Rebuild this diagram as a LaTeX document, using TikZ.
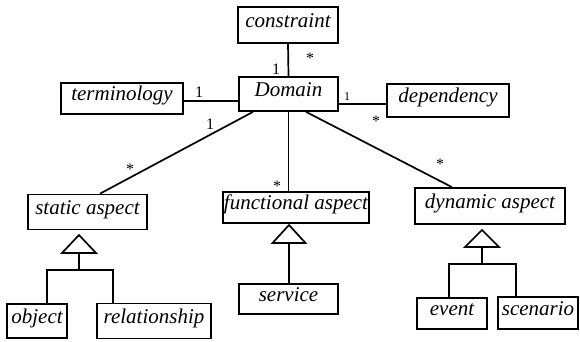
\documentclass[tikz,border=0pt]{standalone}
\usepackage{fontspec}
\setmainfont{Liberation Serif}
\begin{document}
\begin{tikzpicture}[x=1pt,y=-1pt,
  cls/.style={draw,line width=1.7pt,inner sep=0pt,font=\fontsize{21}{23}\selectfont\itshape,text height=0.7em,text depth=0.22em},
  conn/.style={line width=1.7pt},
  mult/.style={inner sep=0pt,font=\fontsize{16}{16}\selectfont},
  gen/.style={draw,line width=1.7pt,fill=white,line join=miter}]
\useasboundingbox (0,0) rectangle (580,341);
% classes
\node[cls,minimum width=100pt,minimum height=36pt] (constraint) at (288,25) {constraint};
\node[cls,minimum width=99pt,minimum height=34pt] (domain) at (288.5,94) {Domain};
\node[cls,minimum width=122pt,minimum height=31pt] (terminology) at (122,98.5) {terminology};
\node[cls,minimum width=122pt,minimum height=33pt] (dependency) at (448,100.5) {dependency};
\node[cls,minimum width=119pt,minimum height=35pt] (static) at (87.5,212) {static aspect};
\node[cls,minimum width=146pt,minimum height=31pt] (functional) at (296,207.5) {functional aspect};
\node[cls,minimum width=150pt,minimum height=36pt] (dynamic) at (490,206) {dynamic aspect};
\node[cls,minimum width=60pt,minimum height=34pt] (object) at (37,321) {object};
\node[cls,minimum width=114pt,minimum height=35pt] (relationship) at (154,321) {relationship};
\node[cls,minimum width=99pt,minimum height=30pt] (service) at (288.5,299) {service};
\node[cls,minimum width=70pt,minimum height=31pt] (event) at (452,313.5) {event};
\node[cls,minimum width=80pt,minimum height=32pt] (scenario) at (538,313) {scenario};
% associations
\draw[conn] (constraint.south) -- (domain.north);
\draw[conn] ([yshift=-2.5pt]terminology.east) -- ([yshift=-2.5pt]terminology.east -| domain.west);
\draw[conn] ([yshift=-3.5pt]dependency.west -| domain.east) -- ([yshift=-3.5pt]dependency.west);
\draw[conn] ([xshift=-35.5pt]domain.south) -- ([xshift=12.5pt]static.north);
\draw[conn] (domain.south) -- (domain.south |- functional.north);
\draw[conn] ([xshift=17.5pt]domain.south) -- ([xshift=-38pt]dynamic.north);
% multiplicities
\node[mult] (m1) at (276,69) {1};
\node[mult] (m2) at (310,58) {*};
\node[mult] (m3) at (199,92) {1};
\node[mult,font=\fontsize{12}{12}\selectfont] (m4) at (347,97) {1};
\node[mult] (m5) at (376,121) {*};
\node[mult] (m6) at (210,124) {1};
\node[mult] (m7) at (130,169) {*};
\node[mult] (m8) at (277,186) {*};
\node[mult] (m9) at (440,164) {*};
% generalization: static
\coordinate (sa) at (79,235);
\coordinate (sb) at (79,253);
\coordinate (sj) at (79,270);
\draw[conn] (sb) -- (sj);
\draw[conn] (object.north -| 47,0) |- (sj) -| (relationship.north -| 113,0);
\draw[gen] (sa) -- (96,253) -- (62,253) -- cycle;
% generalization: functional
\coordinate (fa) at (289,225);
\coordinate (fb) at (289,243);
\draw[conn] (fb) -- (fb |- service.north);
\draw[gen] (fa) -- (305.5,243) -- (272.5,243) -- cycle;
% generalization: dynamic
\coordinate (da) at (482,230);
\coordinate (db) at (482,247);
\coordinate (dj) at (482,264);
\draw[conn] (db) -- (dj);
\draw[conn] (event.north -| 449,0) |- (dj) -| (scenario.north -| 516,0);
\draw[gen] (da) -- (499,247) -- (465,247) -- cycle;
\end{tikzpicture}
\end{document}
